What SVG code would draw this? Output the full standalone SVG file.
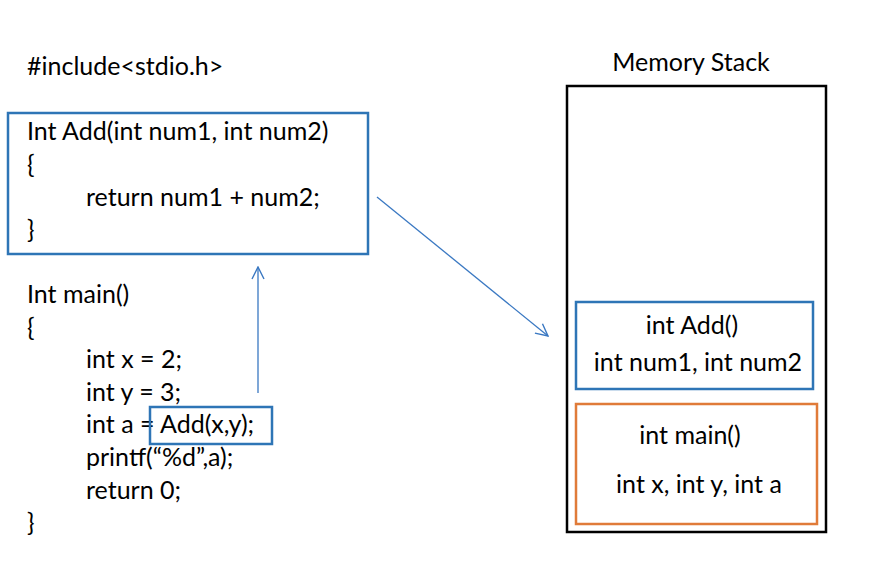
<svg xmlns="http://www.w3.org/2000/svg" width="878" height="566" viewBox="0 0 878 566">
<defs>
<style>
text{font-family:Lato,"Open Sans","Liberation Sans",sans-serif;font-size:25px;fill:#000}
.blue{fill:none;stroke:#2E75B6;stroke-width:2.5}
.org{fill:none;stroke:#E07B39;stroke-width:2.5}
.blk{fill:none;stroke:#000;stroke-width:2.5}
.conn{fill:none;stroke:#3A78C2;stroke-width:1.3}
.c{text-anchor:middle}
</style>
<marker id="arr" viewBox="0 0 14 14" refX="13" refY="7" markerWidth="14" markerHeight="14" markerUnits="userSpaceOnUse" orient="auto">
<path d="M1,1 L13,7 L1,13" fill="none" stroke="#3A78C2" stroke-width="1.4"/>
</marker>
</defs>
<rect width="878" height="566" fill="#fff"/>
<text x="27" y="75">#include&lt;stdio.h&gt;</text>
<g id="add-func">
<rect class="blue" x="8" y="113" width="360" height="141"/>
<text x="27" y="140">Int Add(int num1, int num2)</text>
<text x="27" y="173">{</text>
<text x="86" y="206">return num1 + num2;</text>
<text x="27" y="238">}</text>
</g>
<g id="main-func">
<text x="27" y="303">Int main()</text>
<text x="27" y="336">{</text>
<text x="86" y="368">int x = 2;</text>
<text x="86" y="401">int y = 3;</text>
<text x="86" y="433">int a = Add(x,y);</text>
<text x="86" y="466">printf(“%d”,a);</text>
<text x="86" y="499">return 0;</text>
<text x="27" y="531">}</text>
</g>
<g id="add-call">
<rect class="blue" x="150" y="407" width="122" height="37"/>
</g>
<g id="memory-stack">
<text class="c" x="691" y="71">Memory Stack</text>
<rect class="blk" x="567" y="86" width="259" height="446"/>
</g>
<g id="stack-add">
<rect class="blue" x="576" y="302" width="237" height="87"/>
<text class="c" x="692" y="334">int Add()</text>
<text class="c" x="698" y="371">int num1, int num2</text>
</g>
<g id="stack-main">
<rect class="org" x="576" y="404" width="241" height="120"/>
<text class="c" x="690" y="444">int main()</text>
<text class="c" x="699" y="493">int x, int y, int a</text>
</g>
<g id="connectors">
<line class="conn" x1="258" y1="393" x2="258" y2="267" marker-end="url(#arr)"/>
<line class="conn" x1="377" y1="197" x2="548" y2="336" marker-end="url(#arr)"/>
</g>
</svg>
